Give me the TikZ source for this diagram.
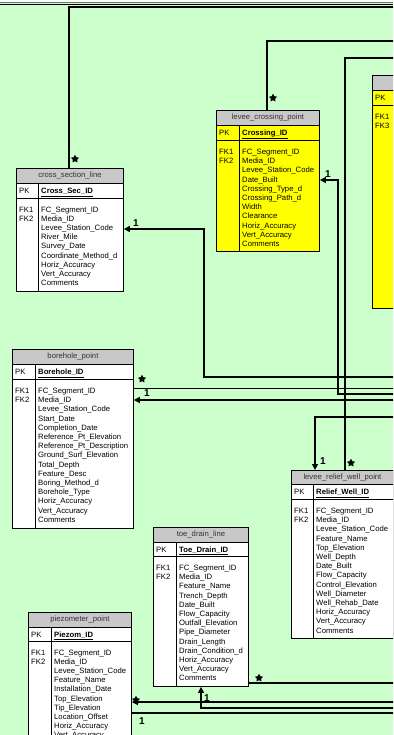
\documentclass[tikz,border=0pt]{standalone}
\usepackage{fontspec}
\setmainfont{Liberation Sans}
\usetikzlibrary{arrows.meta,shapes.geometric}
\definecolor{bggreen}{RGB}{204,255,204}
\definecolor{hdrgray}{RGB}{200,200,200}
\definecolor{tblyellow}{RGB}{255,255,0}
\begin{document}
\begin{tikzpicture}[x=1pt,y=-1pt,
  font=\fontsize{7.7}{9.2}\selectfont,
  hdr/.style={draw, fill=hdrgray, line width=0.9pt, anchor=north west, inner sep=0, text=black!80},
  tbl/.style={draw, fill=white, line width=0.9pt, anchor=north west, inner sep=0},
  ytbl/.style={tbl, fill=tblyellow},
  fld/.style={anchor=base west, inner sep=0},
  sep/.style={line width=0.9pt},
  rel/.style={line width=1.5pt},
  thinrel/.style={line width=1pt},
  one/.style={rel, -{Triangle[length=6pt,width=6pt]}},
  many/.style={star, star points=5, star point ratio=1.9, fill, inner sep=0, minimum size=8.5pt},
  lbl/.style={inner sep=0, font=\bfseries\fontsize{10}{10}\selectfont}]
\clip (0,0) rectangle (393,735);
\fill[bggreen] (0,0) rectangle (393,735);
\fill[white] (0,0) rectangle (393,2.5);
\draw[black!55, line width=0.7pt] (0,2.8) -- (393,2.8);
\draw[line width=0.7pt] (0,4.2) -- (393,4.2);

% cross_section_line
\node[hdr, minimum width=107, minimum height=15] (xsech) at (16,168) {cross\_section\_line};
\node[tbl, minimum width=107, minimum height=15] (xsecp) at (16,183) {};
\node[tbl, minimum width=107, minimum height=93] (xsecb) at (16,198) {};
\draw[sep] (38,183) -- (38,291);
\node[fld] (xsecpk) at (19,193.5) {PK};
\node[fld] (xsecid) at (41,193.5) {\textbf{\underline{Cross\_Sec\_ID}}};
\node[fld] (xsecfk1) at (19,212) {FK1};
\node[fld] (xsecfk2) at (19,221.2) {FK2};
\foreach \f [count=\i] in {FC\_Segment\_ID, Media\_ID, Levee\_Station\_Code, River\_Mile, Survey\_Date, Coordinate\_Method\_d, Horiz\_Accuracy, Vert\_Accuracy, Comments}
  \node[fld] (xsecf\i) at (41,{212+9.2*(\i-1)}) {\f};

% levee_crossing_point
\node[hdr, minimum width=103, minimum height=15] (lcph) at (216,110) {levee\_crossing\_point};
\node[ytbl, minimum width=103, minimum height=15] (lcpp) at (216,125) {};
\node[ytbl, minimum width=103, minimum height=111] (lcpb) at (216,140) {};
\draw[sep] (239,125) -- (239,251);
\node[fld] (lcppk) at (219,135.5) {PK};
\node[fld] (lcpid) at (242,135.5) {\textbf{\underline{Crossing\_ID}}};
\node[fld] (lcpfk1) at (219,154.5) {FK1};
\node[fld] (lcpfk2) at (219,163.7) {FK2};
\foreach \f [count=\i] in {FC\_Segment\_ID, Media\_ID, Levee\_Station\_Code, Date\_Built, Crossing\_Type\_d, Crossing\_Path\_d, Width, Clearance, Horiz\_Accuracy, Vert\_Accuracy, Comments}
  \node[fld] (lcpf\i) at (242,{154.5+9.2*(\i-1)}) {\f};

% table cut at the right edge
\node[hdr, minimum width=30, minimum height=15] (rtbh) at (372,75) {};
\node[ytbl, minimum width=30, minimum height=15] (rtbp) at (372,90) {};
\node[ytbl, minimum width=30, minimum height=203] (rtbb) at (372,105) {};
\node[fld] (rtbpk) at (375,100.5) {PK};
\node[fld] (rtbfk1) at (375,119.5) {FK1};
\node[fld] (rtbfk3) at (375,128.7) {FK3};

% borehole_point
\node[hdr, minimum width=121, minimum height=15] (bhph) at (12,349) {borehole\_point};
\node[tbl, minimum width=121, minimum height=15] (bhpp) at (12,364) {};
\node[tbl, minimum width=121, minimum height=149] (bhpb) at (12,379) {};
\draw[sep] (35,364) -- (35,528);
\node[fld] (bhppk) at (15,374.5) {PK};
\node[fld] (bhpid) at (38,374.5) {\textbf{\underline{Borehole\_ID}}};
\node[fld] (bhpfk1) at (15,393.5) {FK1};
\node[fld] (bhpfk2) at (15,402.7) {FK2};
\foreach \f [count=\i] in {FC\_Segment\_ID, Media\_ID, Levee\_Station\_Code, Start\_Date, Completion\_Date, Reference\_Pt\_Elevation, Reference\_Pt\_Description, Ground\_Surf\_Elevation, Total\_Depth, Feature\_Desc, Boring\_Method\_d, Borehole\_Type, Horiz\_Accuracy, Vert\_Accuracy, Comments}
  \node[fld] (bhpf\i) at (38,{393.5+9.2*(\i-1)}) {\f};

% levee_relief_well_point
\node[hdr, minimum width=102, minimum height=14] (rwph) at (291,470) {levee\_relief\_well\_point};
\node[tbl, minimum width=102, minimum height=15] (rwpp) at (291,484) {};
\node[tbl, minimum width=102, minimum height=139] (rwpb) at (291,499) {};
\draw[sep] (313,484) -- (313,638);
\node[fld] (rwppk) at (294,494.5) {PK};
\node[fld] (rwpid) at (316,494.5) {\textbf{\underline{Relief\_Well\_ID}}};
\node[fld] (rwpfk1) at (294,513.5) {FK1};
\node[fld] (rwpfk2) at (294,522.7) {FK2};
\foreach \f [count=\i] in {FC\_Segment\_ID, Media\_ID, Levee\_Station\_Code, Feature\_Name, Top\_Elevation, Well\_Depth, Date\_Built, Flow\_Capacity, Control\_Elevation, Well\_Diameter, Well\_Rehab\_Date, Horiz\_Accuracy, Vert\_Accuracy, Comments}
  \node[fld] (rwpf\i) at (316,{513.5+9.2*(\i-1)}) {\f};

% toe_drain_line
\node[hdr, minimum width=95, minimum height=15] (tdlh) at (153,527) {toe\_drain\_line};
\node[tbl, minimum width=95, minimum height=14] (tdlp) at (153,542) {};
\node[tbl, minimum width=95, minimum height=130] (tdlb) at (153,556) {};
\draw[sep] (176,542) -- (176,686);
\node[fld] (tdlpk) at (156,552) {PK};
\node[fld] (tdlid) at (179,552) {\textbf{\underline{Toe\_Drain\_ID}}};
\node[fld] (tdlfk1) at (156,570.5) {FK1};
\node[fld] (tdlfk2) at (156,579.7) {FK2};
\foreach \f [count=\i] in {FC\_Segment\_ID, Media\_ID, Feature\_Name, Trench\_Depth, Date\_Built, Flow\_Capacity, Outfall\_Elevation, Pipe\_Diameter, Drain\_Length, Drain\_Condition\_d, Horiz\_Accuracy, Vert\_Accuracy, Comments}
  \node[fld] (tdlf\i) at (179,{570.5+9.2*(\i-1)}) {\f};

% piezometer_point
\node[hdr, minimum width=103, minimum height=15] (pzph) at (28,612) {piezometer\_point};
\node[tbl, minimum width=103, minimum height=14] (pzpp) at (28,627) {};
\node[tbl, minimum width=103, minimum height=120] (pzpb) at (28,641) {};
\draw[sep] (51,627) -- (51,761);
\node[fld] (pzppk) at (31,637) {PK};
\node[fld] (pzpid) at (54,637) {\textbf{\underline{Piezom\_ID}}};
\node[fld] (pzpfk1) at (31,655) {FK1};
\node[fld] (pzpfk2) at (31,664.2) {FK2};
\foreach \f [count=\i] in {FC\_Segment\_ID, Media\_ID, Levee\_Station\_Code, Feature\_Name, Installation\_Date, Top\_Elevation, Tip\_Elevation, Location\_Offset, Horiz\_Accuracy, Vert\_Accuracy}
  \node[fld] (pzpf\i) at (54,{655+9.2*(\i-1)}) {\f};

% relations
\coordinate (c1) at (395,7);
\coordinate (c2) at (395,41);
\coordinate (c3) at (395,58);
\coordinate (c4) at (395,394);
\coordinate (c5) at (395,377);
\coordinate (c6) at (395,388);
\coordinate (c7) at (395,400);
\coordinate (c8) at (395,417);
\coordinate (c9) at (395,683);
\coordinate (c10) at (395,708);
\coordinate (c11) at (395,702);
\coordinate (c12) at (395,713);
\draw[rel] (xsech.north -| 69,0) |- (c1);
\draw[rel] (lcph.north -| 267,0) |- (c2);
\draw[rel] (rwph.north -| 345,0) |- (c3);
\draw[one] (c4) -| (338,180) -- (lcpb.east |- 0,180);
\draw[one] (c5) -| (204,229) -- (xsecb.east |- 0,229);
\draw[thinrel] (bhpb.east |- 0,388) -- (c6);
\draw[one] (c7) -- (bhpb.east |- 0,400);
\draw[one] (c8) -| (rwph.north -| 315,0);
\draw[rel] (tdlb.east |- 0,683) -- (c9);
\draw[one] (c10) -| (tdlb.south -| 201,0);
\draw[one] (c11) -- (pzpb.east |- 0,702);
\draw[rel] (pzpb.east |- 0,713) -- (c12);

\node[many] (m1) at (75,159) {};
\node[many] (m2) at (273,98) {};
\node[many] (m3) at (351,463) {};
\node[many] (m4) at (142,379) {};
\node[many] (m5) at (259,678) {};
\node[many] (m6) at (136,700) {};
\node[lbl] (o1) at (328,174) {1};
\node[lbl] (o2) at (136,223) {1};
\node[lbl] (o3) at (147,393) {1};
\node[lbl] (o4) at (323,461) {1};
\node[lbl] (o5) at (207,698) {1};
\node[lbl] (o6) at (142,721) {1};
\end{tikzpicture}
\end{document}
